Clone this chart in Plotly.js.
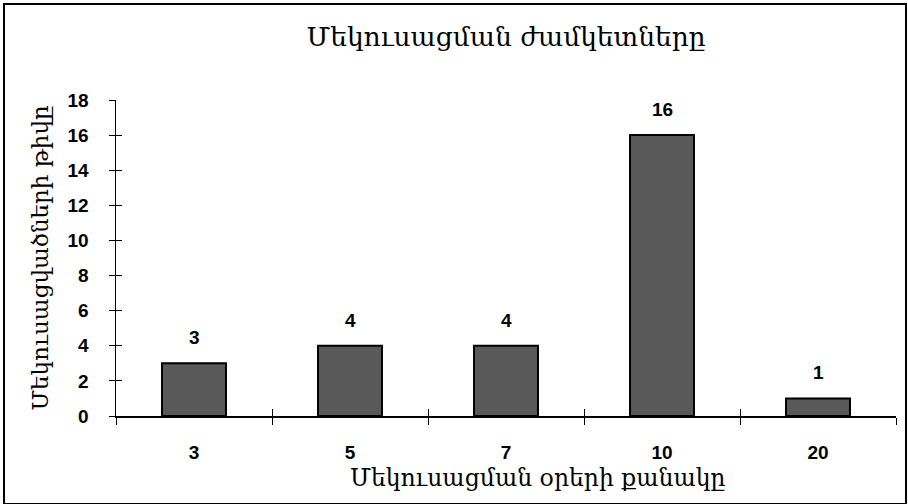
<!DOCTYPE html>
<html>
<head>
<meta charset="utf-8">
<script src="https://cdn.plot.ly/plotly-3.0.1.min.js"></script>
<style>
html,body{margin:0;padding:0;background:#fff;}
#wrap{position:relative;width:908px;height:504px;overflow:hidden;}
#chart{width:908px;height:504px;}
#frame{position:absolute;left:3px;top:3px;width:904px;height:502px;box-sizing:border-box;border:2px solid #000;pointer-events:none;}
</style>
</head>
<body>
<div id="wrap"><div id="chart"></div><div id="frame"></div></div>
<script>
const categories = ["3", "5", "7", "10", "20"];
const values = [3, 4, 4, 16, 1];
const titleText = "Մեկուսացման ժամկետները";
const xTitle = "Մեկուսացման օրերի քանակը";
const yTitle = "Մեկուսացվածների թիվը";
const yTicks = [0, 2, 4, 6, 8, 10, 12, 14, 16, 18];

const armFont = "DejaVu Serif, Noto Sans, serif";
const numFont = "Liberation Sans, Arial, sans-serif";

const trace = {
  type: "bar",
  x: categories,
  y: values,
  width: 0.41,
  marker: {color: "#595959", line: {color: "#000", width: 2}},
  hoverinfo: "none"
};
const ghost = {
  type: "scatter", x: categories, y: values, xaxis: "x2", yaxis: "y2",
  mode: "markers", marker: {opacity: 0}, hoverinfo: "none", showlegend: false
};

const annotations = categories.map((c, i) => ({
  x: i, y: values[i], xref: "x", yref: "y",
  text: String(values[i]), showarrow: false,
  yanchor: "bottom", yshift: 13,
  font: {family: numFont, size: 19, color: "#000", weight: "bold"}
}));
annotations.push({
  text: xTitle, xref: "paper", yref: "paper", x: 0.541, y: -0.196,
  xanchor: "center", yanchor: "middle", showarrow: false,
  font: {family: armFont, size: 23.5, color: "#000"}
});

const layout = {
  width: 908, height: 504,
  margin: {l: 116, r: 12, t: 100, b: 88},
  paper_bgcolor: "#fff", plot_bgcolor: "#fff",
  showlegend: false,
  title: {text: titleText, font: {family: armFont, size: 26.5, color: "#000"},
          x: 0.5, xref: "paper", y: 0.928, yanchor: "middle"},
  xaxis: {
    type: "category", range: [-0.5, 4.5],
    showline: true, linecolor: "#000", linewidth: 1.5,
    ticks: "outside", ticklen: 7, tickcolor: "#000", tickwidth: 1, tickson: "boundaries",
    tickfont: {family: numFont, size: 19, color: "#000", weight: "bold"},
    ticklabelstandoff: 19,
    showgrid: false, zeroline: false
  },
  xaxis2: {
    type: "category", range: [-0.5, 4.5], overlaying: "x", matches: "x",
    ticks: "inside", ticklen: 7, tickcolor: "#000", tickwidth: 1, tickson: "boundaries",
    showticklabels: false, showgrid: false, zeroline: false, showline: false
  },
  yaxis: {
    range: [0, 18], tickvals: yTicks,
    showline: true, linecolor: "#000", linewidth: 1.5,
    ticks: "outside", ticklen: 6, tickcolor: "#000", tickwidth: 1,
    tickfont: {family: numFont, size: 19, color: "#000", weight: "bold"},
    ticklabelstandoff: 16,
    showgrid: false, zeroline: false,
    title: {text: yTitle, font: {family: armFont, size: 23, color: "#000"}, standoff: 12}
  },
  yaxis2: {
    range: [0, 18], tickvals: yTicks, overlaying: "y", matches: "y",
    ticks: "inside", ticklen: 6, tickcolor: "#000", tickwidth: 1,
    showticklabels: false, showgrid: false, zeroline: false, showline: false
  },
  annotations: annotations,
  bargap: 0.59
};

Plotly.newPlot("chart", [trace, ghost], layout, {staticPlot: true, displayModeBar: false});
</script>
</body>
</html>
